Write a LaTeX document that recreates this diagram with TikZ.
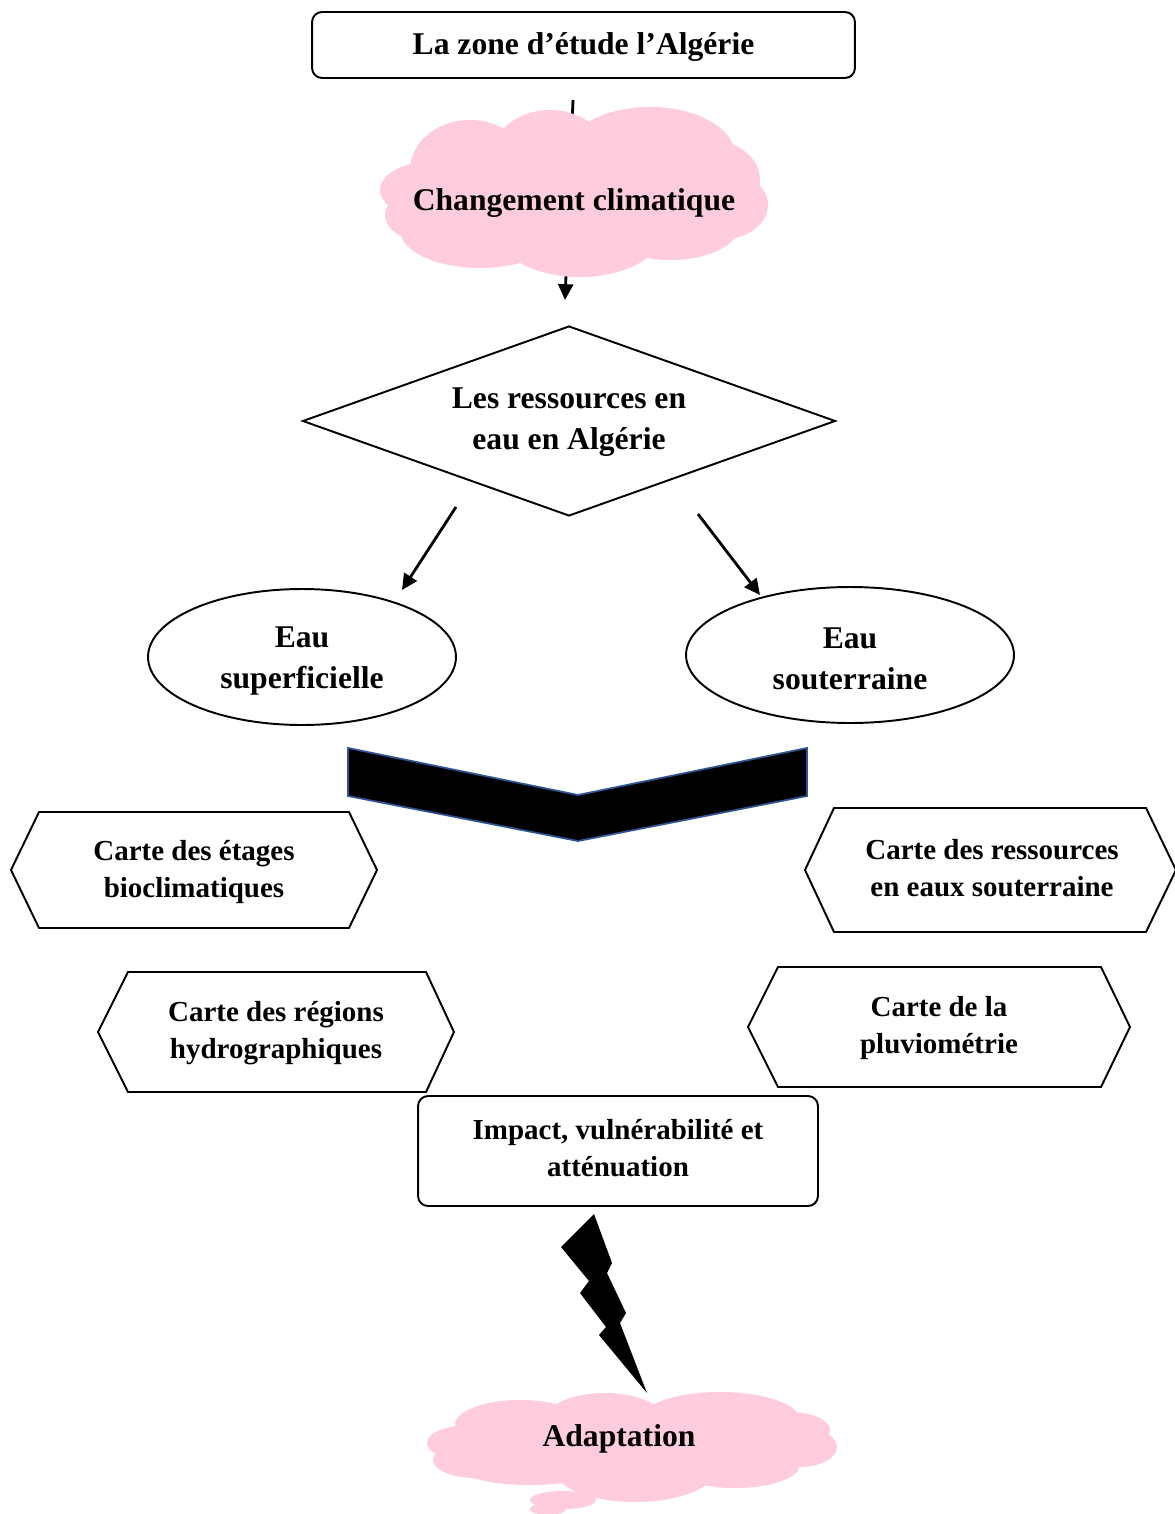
\documentclass[tikz,border=0pt]{standalone}
\usepackage{fontspec}
\setmainfont{Liberation Serif}
\usetikzlibrary{shapes.geometric,arrows.meta}
\definecolor{cloudpink}{RGB}{255,204,222}
\definecolor{chevblue}{RGB}{47,85,151}
\begin{document}
\begin{tikzpicture}[x=0.02cm,y=-0.02cm,
  big/.style={font=\fontsize{18}{23.2}\selectfont\bfseries, align=center},
  med/.style={font=\fontsize{16.5}{20.8}\selectfont\bfseries, align=center},
  box/.style={draw, rounded corners=0.2cm, line width=1.1pt, inner sep=0},
  shapeline/.style={draw, line width=1.1pt, line join=miter},
  arr/.style={line width=1.6pt, -{Triangle[length=9pt,width=8.5pt]}},
  puff/.style={fill=cloudpink}]
\useasboundingbox (0,0) rectangle (1174,1514);
\fill[white] (0,0) rectangle (1174,1514);

% top box
\node[box, minimum width=10.86cm, minimum height=1.32cm] (zone) at (583.5,45) {};
\node[big] (zonetext) at (583.5,47) {La zone d’étude l’Algérie};

% arrow behind the cloud
\coordinate (zoneout) at (573,100);
\coordinate (diamin) at (565,300);
\draw[arr] (zoneout) -- (diamin);

% cloud 1
\begin{scope}[puff]
\fill (470,170) ellipse [x radius=1.2cm, y radius=1.0cm];
\fill (550,160) ellipse [x radius=1.2cm, y radius=1.0cm];
\fill (650,155) ellipse [x radius=1.7cm, y radius=0.96cm];
\fill (710,180) ellipse [x radius=1.0cm, y radius=0.8cm];
\fill (720,205) ellipse [x radius=0.96cm, y radius=0.7cm];
\fill (670,225) ellipse [x radius=1.4cm, y radius=0.7cm];
\fill (580,235) ellipse [x radius=1.6cm, y radius=0.84cm];
\fill (480,230) ellipse [x radius=1.6cm, y radius=0.76cm];
\fill (440,215) ellipse [x radius=1.1cm, y radius=0.6cm];
\fill (430,190) ellipse [x radius=1.0cm, y radius=0.56cm];
\fill (575,195) ellipse [x radius=2.6cm, y radius=1.2cm];
\end{scope}
\node[big] (cc) at (574,203) {Changement climatique};

% diamond
\node[draw, diamond, aspect=2.8, minimum width=10.66cm, minimum height=3.8cm, line width=1.1pt, inner sep=0] (res) at (569,421) {};
\node[big] (restext) at (569,422) {Les ressources en\\eau en Algérie};

% arrows to ellipses
\coordinate (l0) at (456,507);
\coordinate (l1) at (402,590);
\coordinate (r0) at (698,514);
\coordinate (r1) at (760,595);
\draw[arr] (l0) -- (l1);
\draw[arr] (r0) -- (r1);

% ellipses
\node[draw, ellipse, line width=1.1pt, minimum width=6.16cm, minimum height=2.72cm, inner sep=0] (sup) at (302,657) {};
\node[big] (suptext) at (302,661) {Eau\\superficielle};
\node[draw, ellipse, line width=1.1pt, minimum width=6.56cm, minimum height=2.72cm, inner sep=0] (sout) at (850,655) {};
\node[big] (souttext) at (850,659) {Eau\\souterraine};

% chevron
\filldraw[fill=black, draw=chevblue, line width=1pt] (348,748) -- (578,795) -- (807,748) -- (807,796) -- (578,841) -- (348,796) -- cycle;

% hexagons
\draw[shapeline] (11,870) -- (39,812) -- (349,812) -- (377,870) -- (349,928) -- (39,928) -- cycle;
\node[med] (h1) at (194,872) {Carte des étages\\bioclimatiques};

\draw[shapeline] (805,870) -- (834,808) -- (1146,808) -- (1176,870) -- (1146,932) -- (834,932) -- cycle;
\node[med] (h2) at (992,868) {Carte des ressources\\en eaux souterraine};

\draw[shapeline] (98,1032) -- (128,972) -- (426,972) -- (454,1032) -- (426,1092) -- (128,1092) -- cycle;
\node[med] (h3) at (276,1033) {Carte des régions\\hydrographiques};

\draw[shapeline] (748,1027) -- (778,967) -- (1101,967) -- (1130,1027) -- (1101,1087) -- (778,1087) -- cycle;
\node[med] (h4) at (939,1028) {Carte de la\\pluviométrie};

% impact box
\node[box, minimum width=8cm, minimum height=2.2cm] (imp) at (618,1151) {};
\node[med] (imptext) at (618,1148) {Impact, vulnérabilité et\\atténuation};

% lightning
\fill[black] (594,1214) -- (561,1247) -- (589,1281) -- (580,1293) -- (606,1327) -- (599,1335) -- (647,1393) -- (620,1323) -- (626,1313) -- (607,1273) -- (612,1263) -- cycle;

% cloud 2
\begin{scope}[puff]
\fill (563,1500) ellipse [x radius=0.66cm, y radius=0.18cm];
\fill (548,1509) ellipse [x radius=0.36cm, y radius=0.12cm];
\fill (520,1425) ellipse [x radius=1.3cm, y radius=0.5cm];
\fill (605,1420) ellipse [x radius=1.2cm, y radius=0.54cm];
\fill (720,1420) ellipse [x radius=1.6cm, y radius=0.56cm];
\fill (790,1430) ellipse [x radius=0.8cm, y radius=0.36cm];
\fill (800,1447) ellipse [x radius=0.74cm, y radius=0.4cm];
\fill (735,1465) ellipse [x radius=1.3cm, y radius=0.46cm];
\fill (635,1470) ellipse [x radius=1.6cm, y radius=0.64cm];
\fill (530,1465) ellipse [x radius=1.5cm, y radius=0.4cm];
\fill (475,1460) ellipse [x radius=0.84cm, y radius=0.36cm];
\fill (470,1443) ellipse [x radius=0.86cm, y radius=0.36cm];
\fill (632,1446) ellipse [x radius=3.0cm, y radius=0.8cm];
\end{scope}
\node[big] (adapt) at (619,1439) {Adaptation};
\end{tikzpicture}
\end{document}
